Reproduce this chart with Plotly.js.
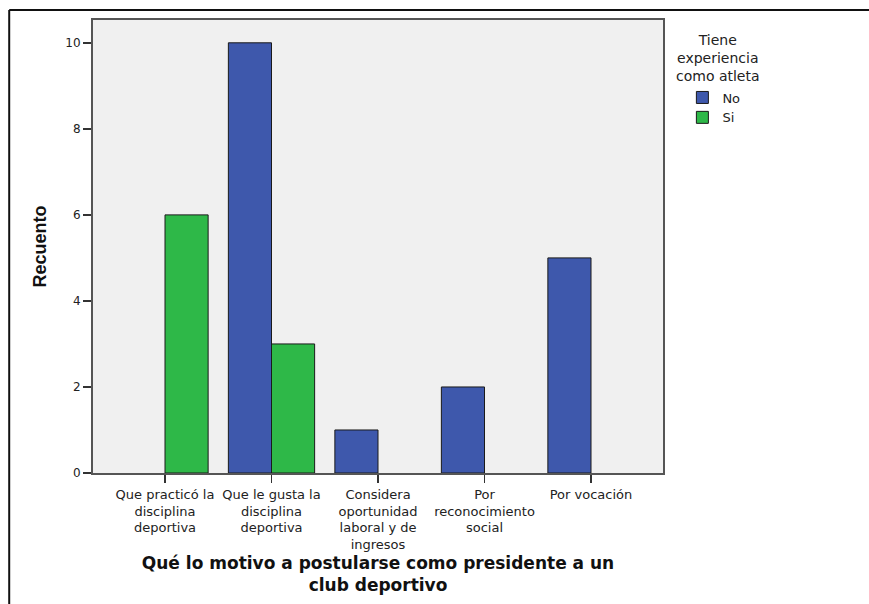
<!DOCTYPE html>
<html>
<head>
<meta charset="utf-8">
<script src="https://cdn.plot.ly/plotly-3.0.1.min.js"></script>
<style>html,body{margin:0;padding:0;background:#fff;}#chart{width:869px;height:604px;}</style>
</head>
<body>
<div id="chart"></div>
<script>
const categories = [
  "Que practicó la<br>disciplina<br>deportiva",
  "Que le gusta la<br>disciplina<br>deportiva",
  "Considera<br>oportunidad<br>laboral y de<br>ingresos",
  "Por<br>reconocimiento<br>social",
  "Por vocación"
];
const seriesNames = ["No", "Si"];
const valuesNo = [0, 10, 1, 2, 5];
const valuesSi = [6, 3, 0, 0, 0];
const yTicks = [0, 2, 4, 6, 8, 10];
const legendTitle = "Tiene<br>experiencia<br>como atleta";
const colorNo = "#3e58ac";
const colorSi = "#2eb848";

// zero counts produce no bar in the original chart
const noBar = v => (v === 0 ? null : v);

const traces = [
  {type: "bar", name: seriesNames[0], x: categories, y: valuesNo.map(noBar),
   marker: {color: colorNo, line: {color: "#1a1a1a", width: 1}}, hoverinfo: "y"},
  {type: "bar", name: seriesNames[1], x: categories, y: valuesSi.map(noBar),
   marker: {color: colorSi, line: {color: "#1a1a1a", width: 1}}, hoverinfo: "y"}
];

const layout = {
  width: 869, height: 604,
  margin: {l: 93, r: 206, t: 20, b: 131},
  paper_bgcolor: "#ffffff",
  plot_bgcolor: "#f0f0f0",
  barmode: "group",
  bargap: 0.19,
  bargroupgap: 0,
  font: {family: "DejaVu Sans, sans-serif", size: 12, color: "#222"},
  xaxis: {
    type: "category",
    range: [-0.676, 4.676],
    showline: true, mirror: true, linecolor: "#555", linewidth: 2,
    ticks: "outside", ticklen: 8, tickcolor: "#333", tickwidth: 1.5,
    tickfont: {family: "DejaVu Sans, sans-serif", size: 13, color: "#222"},
    showgrid: false, zeroline: false,
    title: {text: "Qué lo motivo a postularse como presidente a un<br>club deportivo",
            font: {family: "DejaVu Sans, sans-serif", size: 17, color: "#111", weight: "bold"},
            standoff: 6}
  },
  yaxis: {
    range: [0, 10.53],
    tickvals: yTicks,
    showline: true, mirror: true, linecolor: "#555", linewidth: 2,
    ticks: "outside", ticklen: 8, tickcolor: "#333", tickwidth: 1.5,
    tickfont: {family: "DejaVu Sans, sans-serif", size: 12, color: "#222"},
    showgrid: false, zeroline: false,
    title: {text: "Recuento",
            font: {family: "Liberation Sans, Arial, sans-serif", size: 18, color: "#111", weight: "bold"},
            standoff: 14}
  },
  showlegend: true,
  legend: {
    x: 1.034, y: 0.862, xanchor: "left", yanchor: "top",
    bgcolor: "rgba(0,0,0,0)",
    font: {family: "DejaVu Sans, sans-serif", size: 13, color: "#222"},
    itemwidth: 30,
    traceorder: "normal"
  },
  annotations: [
    {text: legendTitle, xref: "paper", yref: "paper", x: 1.096, y: 0.978,
     xanchor: "center", yanchor: "top", align: "center", showarrow: false,
     font: {family: "DejaVu Sans, sans-serif", size: 14, color: "#222"}}
  ],
  shapes: [
    {type: "line", xref: "paper", yref: "paper", x0: -0.147, x1: 1.37, y0: 1.022, y1: 1.022,
     line: {color: "#111", width: 2}},
    {type: "line", xref: "paper", yref: "paper", x0: -0.147, x1: -0.147, y0: 1.022, y1: -0.30,
     line: {color: "#111", width: 2}}
  ]
};

Plotly.newPlot("chart", traces, layout, {staticPlot: true, displayModeBar: false});
</script>
</body>
</html>
